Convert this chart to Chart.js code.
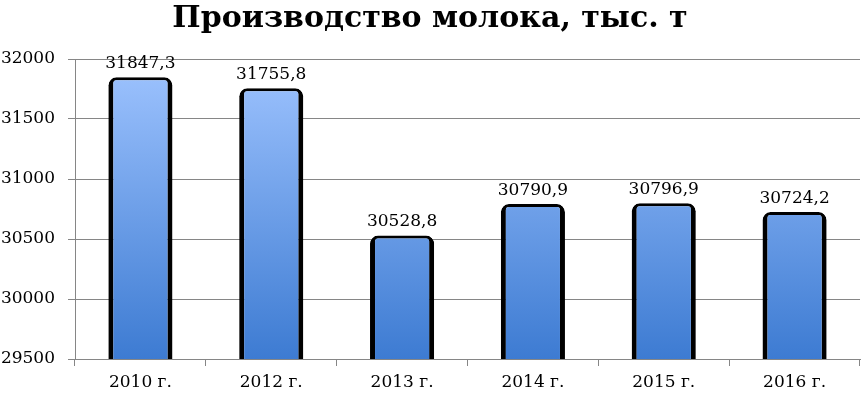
<!DOCTYPE html>
<html><head><meta charset="utf-8">
<script src="https://cdn.jsdelivr.net/npm/chart.js@4/dist/chart.umd.min.js"></script>
<style>html,body{margin:0;padding:0;background:#fff}#wrap{width:862px;height:393px}</style>
</head><body><div id="wrap"><canvas id="c" width="862" height="393"></canvas></div>
<script>
const categories = ['2010 г.', '2012 г.', '2013 г.', '2014 г.', '2015 г.', '2016 г.'];
const milkValues = [31847.3, 31755.8, 30528.8, 30790.9, 30796.9, 30724.2];
const valueLabels = ['31847,3', '31755,8', '30528,8', '30790,9', '30796,9', '30724,2'];
const yTicks = [29500, 30000, 30500, 31000, 31500, 32000];

const serif = "'DejaVu Serif', serif";

const labelPlugin = {
  id: 'valueLabels',
  afterDatasetsDraw(chart) {
    const ctx = chart.ctx;
    const meta = chart.getDatasetMeta(0);
    ctx.save();
    ctx.font = "17px " + serif;
    ctx.fillStyle = '#000';
    ctx.textAlign = 'center';
    ctx.textBaseline = 'bottom';
    meta.data.forEach((bar, i) => {
      ctx.fillText(valueLabels[i], bar.x, bar.y - 5);
    });
    ctx.restore();
  }
};

new Chart(document.getElementById('c'), {
  type: 'bar',
  data: {
    labels: categories,
    datasets: [{
      data: milkValues,
      backgroundColor(ctx) {
        const ca = ctx.chart.chartArea;
        if (!ca) return '#7aa6ee';
        const g = ctx.chart.ctx.createLinearGradient(0, ca.top, 0, ca.bottom);
        g.addColorStop(0, '#9fc4ff');
        g.addColorStop(1, '#3d7bd2');
        return g;
      },
      borderColor: '#000',
      borderWidth: {left: 5, right: 5, top: 3, bottom: 0},
      borderSkipped: 'bottom',
      borderRadius: {topLeft: 8, topRight: 8, bottomLeft: 0, bottomRight: 0},
      barPercentage: 0.49,
      categoryPercentage: 1
    }]
  },
  options: {
    responsive: false,
    animation: false,
    layout: {padding: {left: 0, right: 2, top: 0, bottom: 0}},
    plugins: {
      legend: {display: false},
      tooltip: {enabled: false},
      title: {
        display: true,
        text: 'Производство молока, тыс. т',
        font: {family: serif, size: 30, weight: 'bold', lineHeight: 1.2},
        color: '#000',
        padding: {top: 1, bottom: 22}
      }
    },
    scales: {
      x: {
        grid: {display: true, drawOnChartArea: false, color: '#868686', tickLength: 7, offset: true},
        border: {color: '#868686', width: 1},
        ticks: {font: {family: serif, size: 17}, color: '#000', padding: 6},
        afterFit(s) { s.height = 34; }
      },
      y: {
        min: 29500, max: 32000,
        afterBuildTicks(s) { s.ticks = yTicks.map(v => ({value: v})); },
        grid: {color: '#868686', tickLength: 7},
        border: {color: '#868686', width: 1},
        ticks: {font: {family: serif, size: 17}, color: '#000', padding: 13,
          callback: v => String(v)},
        afterFit(s) { s.width = 75; }
      }
    }
  },
  plugins: [labelPlugin]
});
</script>
</body></html>
